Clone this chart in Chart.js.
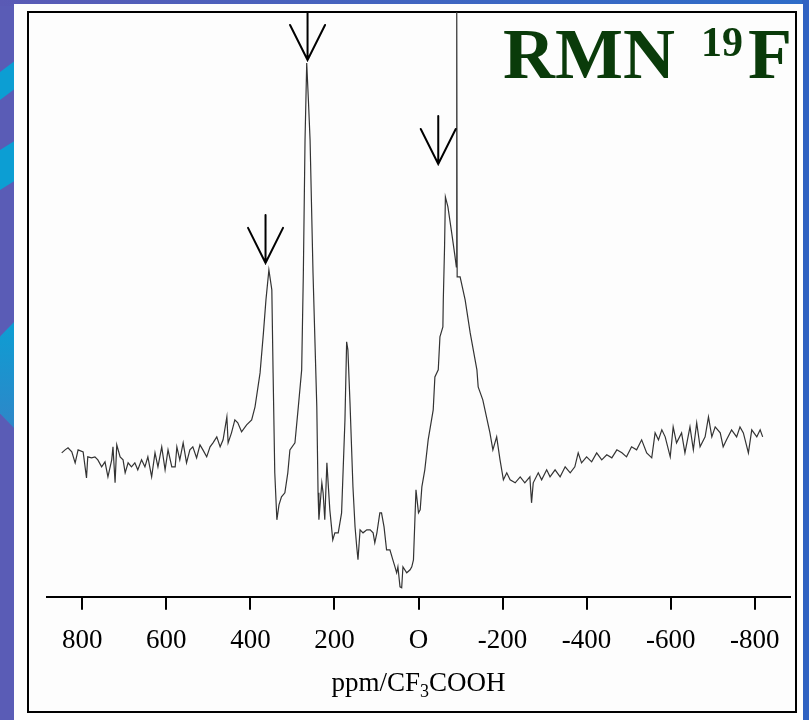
<!DOCTYPE html>
<html><head><meta charset="utf-8">
<script src="https://cdn.jsdelivr.net/npm/chart.js@4/dist/chart.umd.min.js"></script>
<style>
html,body{margin:0;padding:0;width:809px;height:720px;overflow:hidden;background:#5a5cb6;}
#topstrip{position:absolute;left:0;top:0;width:809px;height:6px;background:linear-gradient(90deg,#5a5ab5,#3c66c2 60%,#2d6cc8);}
#rightstrip{position:absolute;left:802px;top:0;width:7px;height:720px;background:#3062c2;}
.cy{position:absolute;left:0;width:16px;background:#0c9ed3;}
#panel{position:absolute;left:14px;top:4px;width:789px;height:716px;background:#fdfdfd;}
#frame{position:absolute;left:27px;top:11px;width:770px;height:702px;border:2px solid #000;box-sizing:border-box;}
#c{position:absolute;left:0;top:0;}
</style>
</head><body>
<div id="topstrip"></div>
<div id="rightstrip"></div>
<div class="cy" style="top:60px;height:40px;clip-path:polygon(0 30%,100% 0,100% 70%,0 100%);"></div>
<div class="cy" style="top:140px;height:50px;clip-path:polygon(0 20%,100% 0,100% 80%,0 100%);"></div>
<div class="cy" style="top:320px;height:110px;background:linear-gradient(180deg,#0c9ed3,#2f86c8);clip-path:polygon(0 15%,100% 0,100% 100%,0 85%);"></div>
<div id="panel"></div>
<div id="frame"></div>
<canvas id="c" width="809" height="720"></canvas>
<script>
// chemical shift (ppm / CF3COOH) and signal intensity (arbitrary units)
const ppm = [849,841,834,825,817,810,798,790,787,778,770,763,754,746,739,730,727,722,718,710,703,698,691,683,675,668,659,651,644,635,627,620,611,603,596,587,579,575,568,560,552,544,537,528,520,513,504,496,489,480,472,465,456,453,445,437,430,421,409,397,
389,377,369,363,356,349,346,342,337,332,326,318,311,306,294,286,278,274,270,266,262,258,251,242,239,237,230,227,223,218,211,204,199,191,183,175,171,168,163,156,151,147,144,139,132,123,115,108,104,99,92,88,82,76,68,61,56,52,49,44,40,37,28,20,16,12,6,0,-4,-8,-15,-23,-35,-39,-47,-51,-58,-59,-62,-64,-70,-79,-87,-90,-91,-92,-99,-111,-123,-139,-142,-153,-170,-177,-186,-194,-202,
-210,-218,-230,-242,-253,-265,-269,-273,-285,-293,-305,-313,-325,-337,-349,-361,-372,-380,-388,-400,-412,-424,-436,-448,-460,-472,-484,-495,-507,-519,-531,-543,-555,-563,-571,-579,-587,-599,-606,-614,-626,-634,-646,-654,-662,-670,-682,-690,-698,-706,-718,-725,-733,-745,-757,-765,-773,-785,-793,-805,-813,-819];
const intensity = [144,147,149,145,134,147,145,119,140,139,140,137,130,135,120,137,150,114,152,140,137,124,134,130,134,127,137,130,140,120,144,130,150,127,147,130,130,150,137,154,134,147,150,139,152,147,140,150,154,160,150,157,180,154,164,177,174,165,172,177,
190,224,264,297,327,307,224,124,77,92,100,104,124,147,154,190,227,324,457,534,497,457,324,190,104,77,114,104,77,134,87,57,64,64,84,177,255,247,194,110,70,50,37,67,64,67,67,64,54,64,84,84,70,47,47,37,30,24,30,10,9,30,24,27,30,37,107,84,87,110,127,157,187,220,227,260,270,297,350,400,390,364,340,330,600,320,320,297,264,227,210,197,164,147,160,137,117,
124,117,114,120,114,120,94,114,124,117,127,120,127,120,130,124,130,144,134,140,135,144,137,142,139,147,144,140,150,147,157,144,139,164,157,167,160,140,170,154,164,144,170,147,174,150,160,180,160,170,164,150,157,167,160,170,164,144,167,160,167,160];
const tickValues = [800,600,400,200,0,-200,-400,-600,-800];
const tickLabels = ['800','600','400','200','O','-200','-400','-600','-800'];
const xRange = [-884, 884];
const yRange = [0, 585];
// arrows marking the signals: position (ppm) and tip intensity
const arrowPpm = [364, 264, -47];
const arrowTip = [334, 537, 433];
const titleParts = ['RMN ', '19', 'F'];
const axisTitleParts = ['ppm/CF', '3', 'COOH'];

const SERIF = '"Liberation Serif","Times New Roman",serif';

const decorPlugin = {
  id: 'decor',
  afterDatasetsDraw(chart) {
    const ctx = chart.ctx, xs = chart.scales.x, ys = chart.scales.y;
    ctx.save();
    ctx.strokeStyle = '#000';
    ctx.lineWidth = 2;
    ctx.lineCap = 'round';
    ctx.lineJoin = 'miter';
    arrowPpm.forEach((p, i) => {
      const x = xs.getPixelForValue(p), y = ys.getPixelForValue(arrowTip[i]);
      ctx.beginPath();
      ctx.moveTo(x, y - 48); ctx.lineTo(x, y);
      ctx.moveTo(x - 17.5, y - 35); ctx.lineTo(x, y); ctx.lineTo(x + 17.5, y - 35);
      ctx.stroke();
    });
    ctx.restore();
  },
  afterDraw(chart) {
    const ctx = chart.ctx, ca = chart.chartArea;
    ctx.save();
    // title RMN 19F
    ctx.fillStyle = '#0a3b0a';
    ctx.textBaseline = 'alphabetic';
    ctx.textAlign = 'left';
    let x = 503;
    ctx.font = 'bold 72px ' + SERIF;
    ctx.fillText(titleParts[0], x, 78);
    x += ctx.measureText(titleParts[0]).width + 8;
    ctx.font = 'bold 42px ' + SERIF;
    ctx.fillText(titleParts[1], x, 56);
    x += ctx.measureText(titleParts[1]).width + 5;
    ctx.font = 'bold 72px ' + SERIF;
    ctx.fillText(titleParts[2], x, 78);
    // axis title ppm/CF3COOH
    ctx.fillStyle = '#000';
    const big = '27px ' + SERIF, small = '18px ' + SERIF;
    ctx.font = big; const w0 = ctx.measureText(axisTitleParts[0]).width;
    ctx.font = small; const w1 = ctx.measureText(axisTitleParts[1]).width;
    ctx.font = big; const w2 = ctx.measureText(axisTitleParts[2]).width;
    let ax = (ca.left + ca.right) / 2 - (w0 + w1 + w2) / 2;
    const base = 691;
    ctx.font = big; ctx.fillText(axisTitleParts[0], ax, base); ax += w0;
    ctx.font = small; ctx.fillText(axisTitleParts[1], ax, base + 6); ax += w1;
    ctx.font = big; ctx.fillText(axisTitleParts[2], ax, base);
    ctx.restore();
  }
};

new Chart(document.getElementById('c'), {
  type: 'line',
  data: {
    datasets: [{
      data: ppm.map((p, i) => ({ x: p, y: intensity[i] })),
      borderColor: '#333333',
      borderWidth: 1.2,
      pointRadius: 0,
      tension: 0,
      fill: false
    }]
  },
  options: {
    responsive: false,
    animation: false,
    devicePixelRatio: 1,
    layout: { padding: { left: 47, right: 19, top: 12, bottom: 47.8 } },
    plugins: { legend: { display: false }, tooltip: { enabled: false }, title: { display: false } },
    scales: {
      x: {
        type: 'linear', reverse: true, min: xRange[0], max: xRange[1],
        afterBuildTicks: (s) => { s.ticks = tickValues.map(v => ({ value: v })); },
        ticks: {
          callback: (v) => tickLabels[tickValues.indexOf(v)],
          font: { family: SERIF, size: 27 }, color: '#000', padding: 15,
          maxRotation: 0, autoSkip: false
        },
        grid: { drawOnChartArea: false, drawTicks: true, tickLength: 13, color: '#000', lineWidth: 2 },
        border: { display: true, color: '#000', width: 2 }
      },
      y: { display: false, min: yRange[0], max: yRange[1] }
    }
  },
  plugins: [decorPlugin]
});
</script>
</body></html>
